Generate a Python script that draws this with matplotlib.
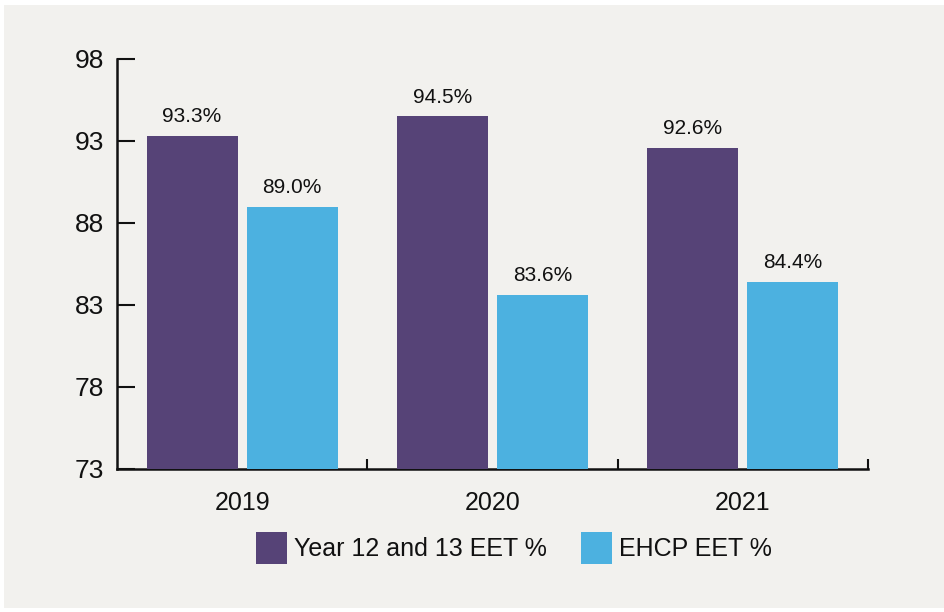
import numpy as np
import matplotlib.pyplot as plt
from matplotlib.patches import Rectangle

years = ["2019", "2020", "2021"]
year12_eet = [93.3, 94.5, 92.6]
ehcp_eet = [89.0, 83.6, 84.4]
series_names = ["Year 12 and 13 EET %", "EHCP EET %"]
yticks = [73, 78, 83, 88, 93, 98]

purple = "#564377"
blue = "#4cb1e0"
panel = "#f2f1ee"

plt.rcParams['font.family'] = ['Liberation Sans', 'DejaVu Sans']

fig = plt.figure(figsize=(9.44, 6.12), dpi=100)
fig.patch.set_facecolor("white")
# grey panel behind everything
fig.patches.append(Rectangle((4 / 944, 0.006), 940 / 944, 1 - 5 / 612 - 0.006,
                             transform=fig.transFigure, facecolor=panel,
                             edgecolor="none", zorder=-10))

ax = fig.add_axes([117 / 944, 1 - 469 / 612, (868 - 117) / 944, (469 - 59) / 612])
ax.set_facecolor("none")

x = np.arange(len(years))
w = 0.364
b1 = ax.bar(x - 0.2, year12_eet, w, color=purple, label=series_names[0], zorder=3)
b2 = ax.bar(x + 0.2, ehcp_eet, w, color=blue, label=series_names[1], zorder=3)

for bars, vals in ((b1, year12_eet), (b2, ehcp_eet)):
    for r, v in zip(bars, vals):
        ax.annotate(f"{v:.1f}%", (r.get_x() + r.get_width() / 2, v),
                    xytext=(0, 7), textcoords="offset points",
                    ha="center", va="bottom", fontsize=15, color="#111111")

ax.set_ylim(73, 98)
ax.set_xlim(-0.5, 2.5)
ax.set_yticks(yticks)
ax.set_xticks(x)
ax.set_xticklabels(years)
ax.set_xticks([0.5, 1.5, 2.5], minor=True)

for s in ("top", "right"):
    ax.spines[s].set_visible(False)
for s in ("left", "bottom"):
    ax.spines[s].set_linewidth(1.8)
    ax.spines[s].set_color("#111111")

ax.tick_params(axis="y", direction="in", length=13, width=1.5, pad=9,
               labelsize=19, colors="#111111")
ax.tick_params(axis="x", which="major", length=0, pad=16, labelsize=18,
               colors="#111111")
ax.tick_params(axis="x", which="minor", direction="in", length=7, width=1.5,
               color="#111111")

fig.legend(loc="center", bbox_to_anchor=(514 / 944, 1 - 548 / 612), ncol=2,
           frameon=False, fontsize=18, handlelength=1.24, handleheight=1.6,
           handletextpad=0.28, columnspacing=1.36, labelcolor="#111111")

fig.savefig("out.png", dpi=100, facecolor=fig.get_facecolor())
